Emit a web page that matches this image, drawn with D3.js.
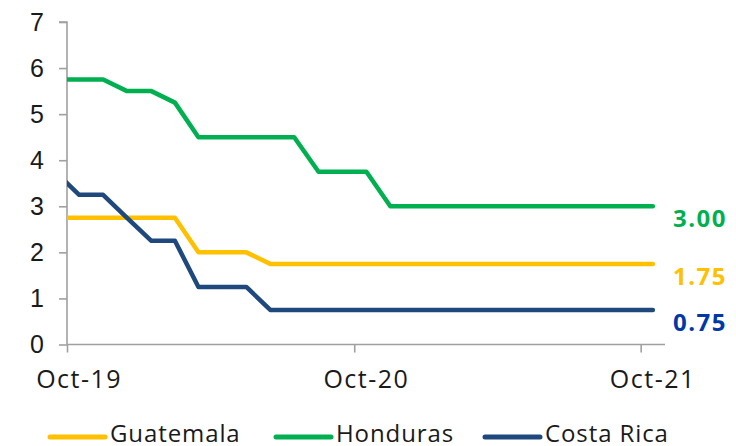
<!DOCTYPE html>
<html>
<head>
<meta charset="utf-8">
<script src="https://cdn.jsdelivr.net/npm/d3@7"></script>
<style>
  body { margin: 0; background: #fff; }
  svg { display: block; font-family: "Open Sans", sans-serif; }
</style>
</head>
<body>
<svg id="body" width="736" height="446"></svg>
<script>
let svg = d3.select("#body");

// monthly policy rates, Sep-19 .. Oct-21 (Sep-19 only shows as the clipped start)
let months = ["2019-09","2019-10","2019-11","2019-12","2020-01","2020-02","2020-03",
              "2020-04","2020-05","2020-06","2020-07","2020-08","2020-09","2020-10",
              "2020-11","2020-12","2021-01","2021-02","2021-03","2021-04","2021-05",
              "2021-06","2021-07","2021-08","2021-09","2021-10"];
let guatemala = [2.75,2.75,2.75,2.75,2.75,2.75,2.00,2.00,2.00,1.75,1.75,1.75,1.75,1.75,
                 1.75,1.75,1.75,1.75,1.75,1.75,1.75,1.75,1.75,1.75,1.75,1.75];
let honduras  = [5.75,5.75,5.75,5.50,5.50,5.25,4.50,4.50,4.50,4.50,4.50,3.75,3.75,3.75,
                 3.00,3.00,3.00,3.00,3.00,3.00,3.00,3.00,3.00,3.00,3.00,3.00];
let costaRica = [3.75,3.25,3.25,2.75,2.25,2.25,1.25,1.25,1.25,0.75,0.75,0.75,0.75,0.75,
                 0.75,0.75,0.75,0.75,0.75,0.75,0.75,0.75,0.75,0.75,0.75,0.75];
let yTicks = [0,1,2,3,4,5,6,7];
let xTickMonths = ["2019-10","2020-10","2021-10"];
let xTickLabels = ["Oct-19","Oct-20","Oct-21"];

let series = [
  {name: "Guatemala",  values: guatemala, color: "#ffc000", label: "#ffc000"},
  {name: "Honduras",   values: honduras,  color: "#00b050", label: "#00b050"},
  {name: "Costa Rica", values: costaRica, color: "#1f497d", label: "#0038a8"}
];

let parse = d3.timeParse("%Y-%m");
// plot each month at its middle
let mid = m => {
  let a = parse(m), b = d3.timeMonth.offset(a, 1);
  return new Date((a.getTime() + b.getTime()) / 2);
};

let x = d3.scaleTime()
          .domain([parse("2019-10"), parse("2021-11")])
          .range([67, 665]);
let y = d3.scaleLinear()
          .domain([0, 7])
          .range([344.5, 22]);

let axisColor = "#a0a0a0";
let textColor = "#1a1a1a";

// y axis
let yAxis = svg.append("g").attr("transform", "translate(67,0)")
  .call(d3.axisLeft(y).tickValues(yTicks).tickSize(8).tickPadding(15).tickFormat(d3.format("d")));
yAxis.select(".domain").attr("stroke", axisColor).attr("stroke-width", 1.6).attr("d", `M-8,${y(7)}H0V${y(0)}`);
yAxis.selectAll(".tick line").attr("stroke", axisColor).attr("stroke-width", 1.6);
yAxis.selectAll(".tick text").attr("fill", textColor).style("font-size", "25px").attr("font-family", null);

// x axis
let xAxis = svg.append("g").attr("transform", `translate(0,${y(0)})`)
  .call(d3.axisBottom(x).tickValues(xTickMonths.map(parse)).tickSize(8).tickFormat(""));
xAxis.select(".domain").attr("stroke", axisColor).attr("stroke-width", 1.6).attr("d", `M67,0H${x.range()[1]}`);
xAxis.selectAll(".tick line").attr("stroke", axisColor).attr("stroke-width", 1.6);

svg.append("g").selectAll("text")
  .data(xTickMonths)
  .enter()
  .append("text")
  .attr("x", d => x(mid(d)))
  .attr("y", 388)
  .attr("text-anchor", "middle")
  .attr("fill", textColor)
  .style("font-size", "25px")
  .style("letter-spacing", "1.5px")
  .text((d, i) => xTickLabels[i]);

// clip lines at the y axis
svg.append("clipPath").attr("id", "plot")
  .append("rect").attr("x", 67).attr("y", 0).attr("width", 700).attr("height", 446);

let line = d3.line()
  .x((d, i) => x(mid(months[i])))
  .y(d => y(d));

svg.append("g").attr("clip-path", "url(#plot)")
  .selectAll("path")
  .data(series)
  .enter()
  .append("path")
  .attr("d", d => line(d.values))
  .attr("fill", "none")
  .attr("stroke", d => d.color)
  .attr("stroke-width", 4.5)
  .attr("stroke-linejoin", "round")
  .attr("stroke-linecap", "round");

// end value labels
svg.append("g").selectAll("text")
  .data(series)
  .enter()
  .append("text")
  .attr("x", 673)
  .attr("y", d => y(d.values[d.values.length - 1]) + 21)
  .attr("fill", d => d.label)
  .style("font-size", "24px")
  .style("font-weight", "bold")
  .style("letter-spacing", "1.5px")
  .text(d => d.values[d.values.length - 1].toFixed(2));

// legend
let legendX = [50, 276, 485];
let legend = svg.append("g").selectAll("g")
  .data(series)
  .enter()
  .append("g")
  .attr("transform", (d, i) => `translate(${legendX[i]},437)`);
legend.append("line")
  .attr("x1", 0).attr("x2", 55)
  .attr("stroke", d => d.color)
  .attr("stroke-width", 5)
  .attr("stroke-linecap", "round");
legend.append("text")
  .attr("x", 60)
  .attr("y", 5)
  .attr("fill", textColor)
  .style("font-size", "24px")
  .style("letter-spacing", "0.9px")
  .text(d => d.name);
</script>
</body>
</html>
